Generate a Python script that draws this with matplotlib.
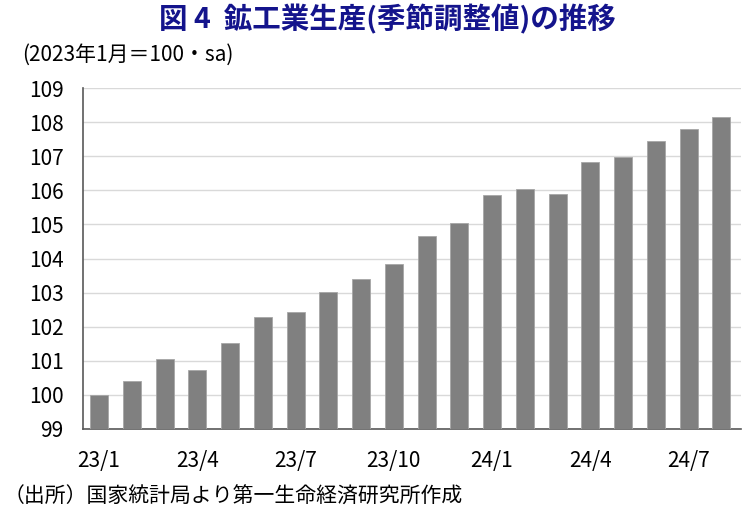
import matplotlib.pyplot as plt
import numpy as np

plt.rcParams['font.family'] = ['Noto Sans CJK JP', 'DejaVu Sans']

# monthly index, 2023/1 = 100, seasonally adjusted
months = ['23/1', '23/2', '23/3', '23/4', '23/5', '23/6', '23/7', '23/8', '23/9', '23/10',
          '23/11', '23/12', '24/1', '24/2', '24/3', '24/4', '24/5', '24/6', '24/7', '24/8']
values = [100.0, 100.41, 101.05, 100.72, 101.52, 102.29, 102.44, 103.03, 103.39, 103.83,
          104.67, 105.05, 105.85, 106.03, 105.88, 106.84, 106.99, 107.44, 107.8, 108.14]
yticks = list(range(99, 110))

fig = plt.figure(figsize=(7.49, 5.15), dpi=100)
ax = fig.add_axes([0.1108, 0.167, 0.8785, 0.662])

x = np.arange(len(months))
ax.bar(x, [v - 99 for v in values], bottom=99, width=0.55, color='#808080',
       edgecolor='#a6a6a6', linewidth=0.6, zorder=3)

ax.set_ylim(99, 109)
ax.set_xlim(-0.49, 19.6)
ax.set_yticks(yticks)
ax.set_yticklabels([str(t) for t in yticks], fontsize=15)
ax.set_xticks(x[::3])
ax.set_xticklabels(months[::3], fontsize=15)
ax.tick_params(axis='y', length=0, pad=14)
ax.tick_params(axis='x', length=0, pad=15)
ax.grid(axis='y', color='#d9d9d9', linewidth=1, zorder=0)

for s in ['top', 'right']:
    ax.spines[s].set_visible(False)
ax.spines['left'].set_color('#595959')
ax.spines['bottom'].set_color('#595959')
ax.spines['left'].set_linewidth(1.2)
ax.spines['bottom'].set_linewidth(1.2)

fig.text(0.517, 0.963, '図 4  鉱工業生産(季節調整値)の推移', ha='center', va='center',
         fontsize=20.5, fontweight='bold', color='#14148c')
fig.text(0.03, 0.893, '(2023年1月＝100・sa)', ha='left', va='center', fontsize=15)
fig.text(0.005, 0.035, '（出所）国家統計局より第一生命経済研究所作成', ha='left', va='center', fontsize=15)

fig.savefig('out.png', dpi=100)
